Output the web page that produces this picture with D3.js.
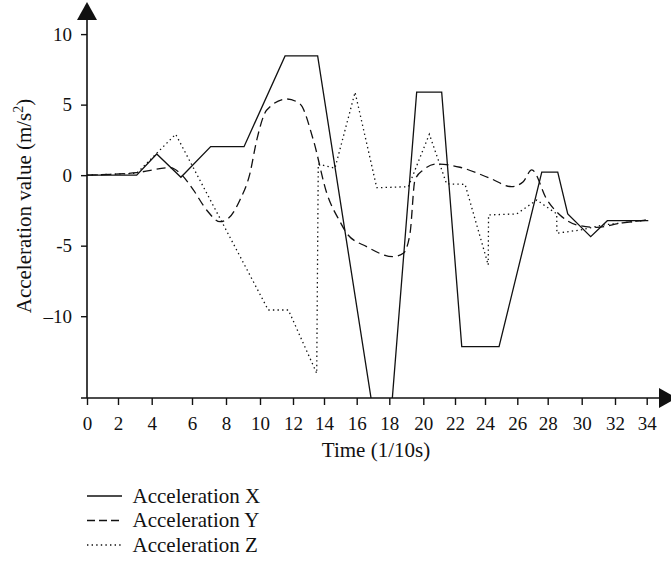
<!DOCTYPE html>
<html>
<head>
<meta charset="utf-8">
<script src="https://cdn.jsdelivr.net/npm/d3@7"></script>
<style>
  body { margin: 0; background: #fff; }
  svg { display: block; font-family: "Liberation Serif", "DejaVu Serif", serif; }
</style>
</head>
<body>
<div id="chart"></div>
<script>
// tick labels
var timeTicks = [0, 2, 4, 6, 8, 10, 12, 14, 16, 18, 20, 22, 24, 26, 28, 30, 32, 34];
var accelTicks = [10, 5, 0, -5, -10];
var accelTickLabels = ["10", "5", "0", "-5", "\u201310"];

// series, [time (1/10s), acceleration (m/s2)]
var accelX = [
  [0, 0], [3.11, 0], [4.25, 1.5], [5.45, -0.15], [7.1, 2.02], [9.06, 2.02],
  [11.52, 8.45], [13.59, 8.45], [17.04, -17], [18.1, -17], [19.61, 5.88],
  [21.16, 5.88], [22.45, -12.16], [24.87, -12.16], [27.61, 0.21], [28.59, 0.21],
  [29.18, -2.75], [30.54, -4.36], [31.54, -3.23], [34.1, -3.23]
];
var accelY = [
  [0, 0], [3.11, 0.18], [4.91, 0.53], [5.41, 0.13], [6.08, -1.05], [6.86, -2.47],
  [7.65, -3.3], [8.14, -3.06], [8.82, -1.76], [9.41, 0.13], [9.81, 2.5],
  [10.41, 4.62], [11.62, 5.4], [12.45, 5.05], [13.31, 2.5], [14.17, -1.28],
  [14.98, -3.3], [15.39, -4.12], [16.61, -5.07], [18.24, -5.78], [18.82, -5.54],
  [19.22, -4.12], [19.51, -0.34], [20.0, 0.37], [20.85, 0.79], [22.33, 0.56],
  [24.31, -0.22], [25.65, -0.82], [26.39, -0.46], [26.95, 0.37], [27.96, -1.76],
  [28.72, -2.82], [29.71, -3.53], [30.9, -3.7], [32.32, -3.41], [34.1, -3.18]
];
var accelZ = [
  [0, 0], [3.11, 0.13], [5.19, 2.9], [10.5, -9.56], [11.72, -9.56], [13.53, -14.05],
  [13.63, 0.79], [14.67, 0.49], [15.9, 5.88], [17.23, -0.89], [19.12, -0.82],
  [20.38, 2.9], [21.47, -0.62], [22.67, -0.65], [24.2, -6.37], [24.22, -2.82],
  [25.96, -2.75], [27.28, -1.76], [28.53, -2.75], [28.54, -4.12], [29.9, -3.89],
  [31.3, -3.53], [34.1, -3.18]
];

var legendNames = ["Acceleration X", "Acceleration Y", "Acceleration Z"];

var width = 671, height = 561;

// the time axis of the original figure is not evenly spaced: pixel spot of each tick
var timeTickPx = [87, 118, 151.7, 192, 226, 260, 293, 324, 356.7, 389.3,
  423.3, 455, 485, 517.3, 547.7, 581.7, 615, 646.7];

var x = d3.scaleLinear().domain(timeTicks).range(timeTickPx);
var y = d3.scaleLinear().domain([-15.8, 11]).range([398, 20]);

var svg = d3.select("#chart").append("svg")
  .attr("width", width)
  .attr("height", height);

svg.append("defs").append("clipPath").attr("id", "plot-clip")
  .append("rect")
  .attr("x", x(0))
  .attr("y", y.range()[1])
  .attr("width", width - x(0))
  .attr("height", y.range()[0] - y.range()[1]);

// series styles
var styles = [
  { data: accelX, dash: null, curve: d3.curveLinear },
  { data: accelY, dash: "9,5", curve: d3.curveMonotoneX },
  { data: accelZ, dash: "1.4,3.2", curve: d3.curveLinear }
];

var plot = svg.append("g").attr("clip-path", "url(#plot-clip)");
styles.forEach(function(s) {
  var line = d3.line()
    .x(function(d) { return x(d[0]); })
    .y(function(d) { return y(d[1]); })
    .curve(s.curve);
  plot.append("path")
    .datum(s.data)
    .attr("d", line)
    .attr("fill", "none")
    .attr("stroke", "#111")
    .attr("stroke-width", 1.3)
    .attr("stroke-dasharray", s.dash);
});

// y axis
var yAxis = d3.axisLeft(y)
  .tickValues(accelTicks)
  .tickSize(6)
  .tickSizeOuter(0)
  .tickPadding(9)
  .tickFormat(function(d, i) { return accelTickLabels[i]; });
var gy = svg.append("g")
  .attr("transform", "translate(" + x(0) + ",0)")
  .call(yAxis);
gy.select(".domain").remove();
gy.selectAll("line").attr("stroke", "#111").attr("stroke-width", 1.4);
gy.selectAll("text")
  .attr("fill", "#111")
  .style("font-size", "19px")
  .style("font-family", "Liberation Serif");

// x axis
var xAxis = d3.axisBottom(x)
  .tickValues(timeTicks)
  .tickSize(7)
  .tickSizeOuter(0)
  .tickPadding(11.5);
var gx = svg.append("g")
  .attr("transform", "translate(0," + y.range()[0] + ")")
  .call(xAxis);
gx.select(".domain").remove();
gx.selectAll("line").attr("stroke", "#111").attr("stroke-width", 1.4);
gx.selectAll("text")
  .attr("fill", "#111")
  .style("font-size", "19px")
  .style("font-family", "Liberation Serif");

// axis lines with arrows
var y0 = y.range()[0], yTop = y.range()[1];
svg.append("line")
  .attr("x1", x(0)).attr("x2", x(0))
  .attr("y1", y0).attr("y2", yTop)
  .attr("stroke", "#111").attr("stroke-width", 1.6);
svg.append("path")
  .attr("d", "M" + (x(0) - 10) + "," + yTop + "L" + (x(0) + 10) + "," + yTop + "L" + x(0) + "," + (yTop - 18) + "Z")
  .attr("fill", "#111");

var xEnd = 659;
svg.append("line")
  .attr("x1", x(0) - 6).attr("x2", xEnd)
  .attr("y1", y0).attr("y2", y0)
  .attr("stroke", "#111").attr("stroke-width", 1.6);
svg.append("path")
  .attr("d", "M" + xEnd + "," + (y0 - 10) + "L" + xEnd + "," + (y0 + 10) + "L" + (xEnd + 18) + "," + y0 + "Z")
  .attr("fill", "#111");

// axis titles
svg.append("text")
  .attr("x", 376)
  .attr("y", 456.5)
  .attr("text-anchor", "middle")
  .attr("fill", "#111")
  .style("font-size", "21px")
  .text("Time (1/10s)");

var yTitle = svg.append("text")
  .attr("transform", "translate(31,206) rotate(-90)")
  .attr("text-anchor", "middle")
  .attr("fill", "#111")
  .style("font-size", "21px");
yTitle.append("tspan").text("Acceleration value (m/s");
yTitle.append("tspan").attr("dy", -8).style("font-size", "14px").text("2");
yTitle.append("tspan").attr("dy", 8).text(")");

// legend
var legend = svg.append("g").selectAll("g")
  .data(legendNames)
  .enter().append("g")
  .attr("transform", function(d, i) { return "translate(87," + (496 + i * 24.5) + ")"; });

legend.append("line")
  .attr("x1", 0).attr("x2", 35)
  .attr("y1", 0).attr("y2", 0)
  .attr("stroke", "#111")
  .attr("stroke-width", 1.3)
  .attr("stroke-dasharray", function(d, i) { return [null, "8,4", "1.4,3.2"][i]; });

legend.append("text")
  .attr("x", 45.5)
  .attr("y", 6.8)
  .attr("fill", "#111")
  .style("font-size", "21px")
  .text(function(d) { return d; });
</script>
</body>
</html>
